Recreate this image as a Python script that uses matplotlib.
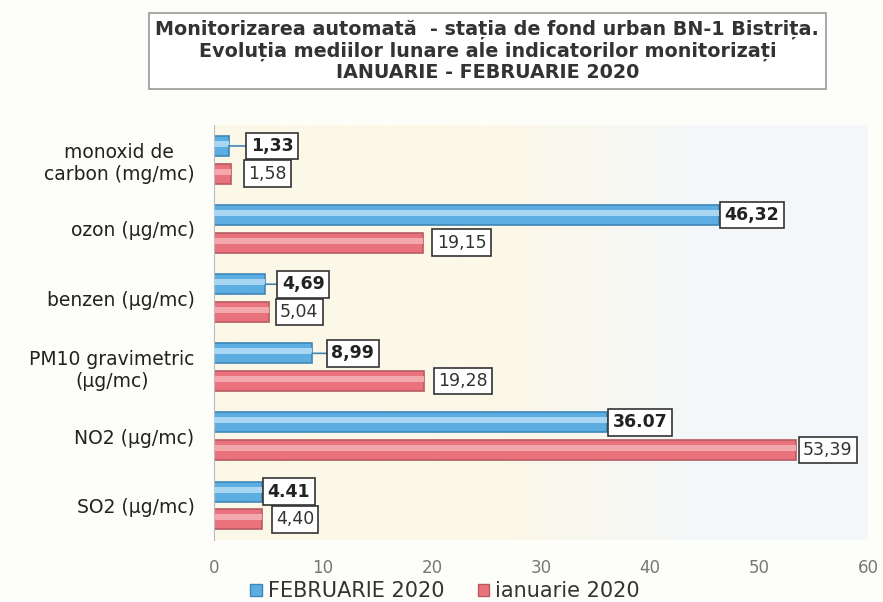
import matplotlib.pyplot as plt
import matplotlib.patches as mpatches
import numpy as np

plt.rcParams['font.family'] = ['DejaVu Sans']

categorii = ['monoxid de\ncarbon (mg/mc)', 'ozon (µg/mc)', 'benzen (µg/mc)',
             'PM10 gravimetric\n(µg/mc)', 'NO2 (µg/mc)', 'SO2 (µg/mc)']
februarie = [1.33, 46.32, 4.69, 8.99, 36.07, 4.41]
ianuarie = [1.58, 19.15, 5.04, 19.28, 53.39, 4.40]
et_feb = ['1,33', '46,32', '4,69', '8,99', '36.07', '4.41']
et_ian = ['1,58', '19,15', '5,04', '19,28', '53,39', '4,40']
# distanta eticheta fata de capatul barei (puncte)
dx_feb = [16, 4, 12, 14, 4, 4]
dx_ian = [12, 10, 8, 10, 5, 10]

albastru = '#5caee2'
rosu = '#ea727c'

fig = plt.figure(figsize=(8.83, 6.02), dpi=100, facecolor='#fdfdfa')
ax = fig.add_axes([0.2424, 0.103, 0.7406, 0.689])

# fundal: crem in stanga, alb-albastrui in dreapta
grad = np.linspace(0, 1, 256).reshape(1, -1)
c1 = np.array([251, 248, 232]) / 255
c2 = np.array([244, 247, 250]) / 255
t = np.clip((grad - 0.45) / 0.3, 0, 1)[..., None]
img = c1 * (1 - t) + c2 * t
ax.imshow(img, extent=(0, 60, -0.5, 5.5), aspect='auto', zorder=0)

y = np.arange(len(categorii))[::-1]
h = 0.29
ax.barh(y + 0.2, februarie, height=h, color=albastru, edgecolor='#3f86b8', linewidth=1.2, zorder=2)
ax.barh(y - 0.2, ianuarie, height=h, color=rosu, edgecolor='#b85a63', linewidth=1.2, zorder=2)
# dunga mai deschisa pe bare
ax.barh(y + 0.23, februarie, height=h * 0.3, color='#a9d6f2', linewidth=0, zorder=3)
ax.barh(y - 0.17, ianuarie, height=h * 0.3, color='#f3a8ae', linewidth=0, zorder=3)

for i in range(len(categorii)):
    ax.annotate(et_feb[i], xy=(februarie[i], y[i] + 0.2), xytext=(dx_feb[i], 0),
                textcoords='offset points', va='center', ha='left', fontsize=12.5,
                fontweight='bold', color='#222222', zorder=4,
                bbox=dict(boxstyle='square,pad=0.25', fc='white', ec='#333333', lw=1.2),
                arrowprops=dict(arrowstyle='-', color='#3f86b8', lw=1.2,
                                shrinkA=0, shrinkB=0) if dx_feb[i] > 6 else None)
    ax.annotate(et_ian[i], xy=(ianuarie[i], y[i] - 0.2), xytext=(dx_ian[i], 0),
                textcoords='offset points', va='center', ha='left', fontsize=12.5,
                color='#333333', zorder=4,
                bbox=dict(boxstyle='square,pad=0.25', fc='white', ec='#333333', lw=1.2))

ax.set_xlim(0, 60)
ax.set_ylim(-0.5, 5.5)
ax.set_xticks(range(0, 61, 10))
ax.set_yticks(y)
ax.set_yticklabels(categorii, fontsize=13.5, color='#222222', multialignment='center')
ax.tick_params(axis='x', length=0, labelsize=12, labelcolor='#777777', pad=14)
ax.tick_params(axis='y', length=0, pad=14)
for s in ['top', 'right', 'bottom']:
    ax.spines[s].set_visible(False)
ax.spines['left'].set_color('#bbbbbb')

titlu = ('Monitorizarea automată  - stația de fond urban BN-1 Bistrița.\n'
         'Evoluția mediilor lunare ale indicatorilor monitorizați\n'
         'IANUARIE - FEBRUARIE 2020')
fig.text(0.552, 0.915, titlu, ha='center', va='center', fontsize=13.8, fontweight='bold',
         color='#333333', linespacing=1.15,
         bbox=dict(boxstyle='square,pad=0.35', fc='white', ec='#999999', lw=1.2))

handles = [mpatches.Patch(facecolor=albastru, edgecolor='#3f86b8'),
           mpatches.Patch(facecolor=rosu, edgecolor='#b85a63')]
fig.legend(handles, ['FEBRUARIE 2020', 'ianuarie 2020'], loc='lower left',
           bbox_to_anchor=(0.262, -0.03), ncol=2, frameon=False, fontsize=15,
           columnspacing=1.6, handlelength=0.55, handleheight=0.55, handletextpad=0.3,
           labelcolor='#333333')

fig.savefig('out.png', dpi=100, facecolor=fig.get_facecolor())
